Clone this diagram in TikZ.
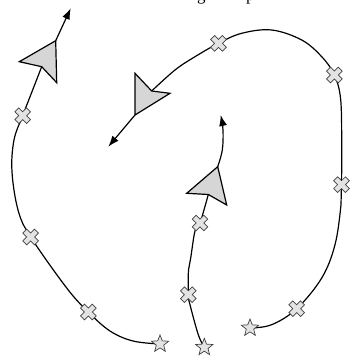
\documentclass[tikz,border=0pt]{standalone}
\usepackage{fontspec}
\setmainfont{Liberation Serif}
\usetikzlibrary{shapes.geometric,arrows.meta}
\definecolor{planefill}{gray}{0.84}
\definecolor{markfill}{gray}{0.89}
\definecolor{markline}{gray}{0.25}
\begin{document}
\begin{tikzpicture}[x=1pt,y=-1pt,
  trail/.style={line width=1.2pt, black},
  dart/.style={draw=black, fill=planefill, line width=1.2pt, line join=miter},
  lead/.style={line width=1.2pt, -{Latex[length=11pt,width=8pt]}},
  startstar/.style={star, star points=5, star point ratio=2.3, minimum size=18pt, inner sep=0pt, draw=markline, fill=markfill, line width=0.7pt},
  xmark/.pic={\filldraw[fill=markfill, draw=markline, line width=0.7pt, rotate=45]
     (2.8,2.8) -- (2.8,8.3) -- (-2.8,8.3) -- (-2.8,2.8) -- (-8.3,2.8) -- (-8.3,-2.8)
     -- (-2.8,-2.8) -- (-2.8,-8.3) -- (2.8,-8.3) -- (2.8,-2.8) -- (8.3,-2.8) -- (8.3,2.8) -- cycle;},
  caption/.style={font=\fontsize{17pt}{20pt}\selectfont, inner sep=0pt}
]
\useasboundingbox (0,0) rectangle (349,356);
\begin{scope}
\clip (0,0) rectangle (349,356);
\node[caption, anchor=base west] (capg) at (197,0.5) {g};
\node[caption, anchor=base west] (capp) at (246,0.5) {p};
\end{scope}

% ---------- path 1 (left) ----------
\coordinate (a0) at (160,344);
\coordinate (ax1) at (88.3,312);
\coordinate (ax2) at (30.7,237);
\coordinate (ax3) at (22.7,115.7);
\coordinate (an) at (41.7,66.7);
\coordinate (at) at (55.7,40.7);
\coordinate (atip) at (70.7,8.3);
\draw[trail] plot[smooth, tension=0.6] coordinates {(a0) (133,341) (110,331) (ax1) (66.7,288) (ax2) (18.3,211) (12,172) (14,140) (ax3) (30.7,95) (an)};
\draw[lead] (at) -- (atip);
\filldraw[dart] (at) -- (19.3,61.7) -- (an) -- (56.7,82.7) -- cycle;

% ---------- path 2 (big loop) ----------
\coordinate (b0) at (250,328);
\coordinate (bx1) at (296.7,308.7);
\coordinate (bx2) at (341.5,184.7);
\coordinate (bx3) at (334.3,75);
\coordinate (bx4) at (218.5,43.3);
\coordinate (bn) at (151.7,91);
\coordinate (bb) at (135,115);
\coordinate (btip) at (108.3,146.7);
\draw[trail] plot[smooth, tension=0.6] coordinates {(b0) (271.7,324.7) (bx1) (321.7,278) (335,244.7) (341,204.7) (bx2) (341.7,150) (340.7,100) (bx3) (321.7,56.7) (301.7,40) (271.7,30) (241.7,33.3) (bx4) (195,56.7) (175,70) (bn)};
\draw[lead] (bb) -- (btip);
\filldraw[dart] (135,73.3) -- (bn) -- (170,93.3) -- (bb) -- cycle;

% ---------- path 3 (middle) ----------
\coordinate (c0) at (204.3,347.3);
\coordinate (cx1) at (188.3,294.7);
\coordinate (cx2) at (200,223);
\coordinate (cn) at (208.3,194.5);
\coordinate (ct) at (217.7,166.7);
\coordinate (ctip) at (220.7,115);
\draw[trail] plot[smooth, tension=0.6] coordinates {(c0) (198.3,334.7) (190,304.7) (cx1) (188.5,270) (190.7,258) (195,231) (cx2) (cn)};
\draw[lead] plot[smooth, tension=0.6] coordinates {(ct) (222.3,150) (223,130) (ctip)};
\filldraw[dart] (ct) -- (186.7,193.3) -- (cn) -- (226.7,205) -- cycle;

% ---------- marks ----------
\foreach \m in {ax1,ax2,ax3,bx1,bx2,bx3,bx4,cx1,cx2} \pic at (\m) {xmark};
\node[startstar] (s1) at (a0) {};
\node[startstar] (s2) at (b0) {};
\node[startstar] (s3) at (c0) {};
\end{tikzpicture}
\end{document}
